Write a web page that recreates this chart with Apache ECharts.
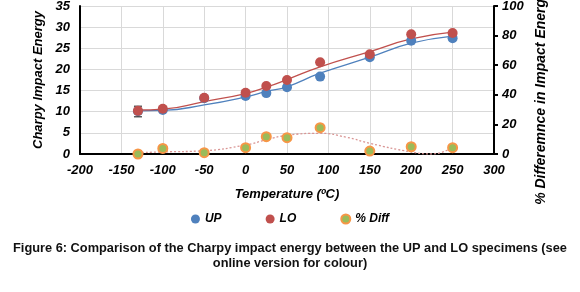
<!DOCTYPE html>
<html>
<head>
<meta charset="utf-8">
<script src="https://cdn.jsdelivr.net/npm/echarts@6/dist/echarts.min.js"></script>
<style>
  html, body { margin: 0; padding: 0; background: #fff; }
  #chart { width: 580px; height: 292px; }
</style>
</head>
<body>
<div id="chart"></div>
<script>
// measured points
var temps = [-130, -100, -50, 0, 25, 50, 90, 150, 200, 250];
var upVals = [10.1, 10.4, 13.2, 13.7, 14.4, 15.8, 18.3, 22.9, 26.8, 27.4];
var loVals = [10.2, 10.7, 13.3, 14.5, 16.1, 17.5, 21.7, 23.6, 28.3, 28.6];
var diffVals = [0, 3.8, 0.9, 4.3, 11.7, 11.0, 17.8, 2.0, 4.9, 4.3];

// error bar on the first LO point
var errTemp = [-130];
var errLow = [8.8];
var errHigh = [11.3];

// trend lines
var trendTemps = [-130, -100, -50, 0, 25, 50, 90, 150, 200, 250];
var upTrend = [10.2, 10.3, 11.6, 13.5, 14.8, 15.9, 19.1, 22.9, 26.2, 27.9];
var loTrend = [10.4, 10.6, 12.4, 14.3, 15.8, 17.6, 20.6, 24.2, 27.2, 28.8];
var diffTrendTemps = [-130, -100, -50, 0, 25, 50, 90, 122, 150, 200, 225, 250];
var diffTrend = [0.9, 1.4, 2.2, 6.1, 9.6, 12.6, 14.0, 11.3, 7.2, 1.4, 0, 4.5];

var xTicks = [-200, 300, 50];
var leftTicks = [0, 35, 5];
var rightTicks = [0, 100, 20];

var font = 'Liberation Sans';
var blue = '#4f81bd', red = '#c0504d', green = '#9bbb59', orange = '#f79646';

function pairs(xs, ys) {
  return xs.map(function (x, i) { return [x, ys[i]]; });
}

var labelStyle = { fontFamily: font, fontWeight: 'bold', fontStyle: 'italic', fontSize: 13, color: '#000' };

var myChart = echarts.init(document.getElementById('chart'));
var option = {
  animation: false,
  textStyle: { fontFamily: font },
  title: {
    text: 'Figure 6: Comparison of the Charpy impact energy between the UP and LO specimens (see\nonline version for colour)',
    left: 'center',
    top: 236,
    textStyle: { fontFamily: font, fontWeight: 'bold', fontSize: 12.8, color: '#111', lineHeight: 15, align: 'center' }
  },
  legend: {
    data: ['UP', 'LO', '% Diff'],
    top: 208,
    left: 'center',
    itemGap: 44,
    itemWidth: 9,
    itemHeight: 9,
    textStyle: { fontFamily: font, fontWeight: 'bold', fontStyle: 'italic', fontSize: 12, color: '#000' }
  },
  grid: { left: 80, right: 86, top: 6, bottom: 138, outerBoundsMode: 'none', containLabel: false },
  xAxis: {
    type: 'value',
    min: xTicks[0], max: xTicks[1], interval: xTicks[2],
    name: 'Temperature (ºC)',
    nameLocation: 'middle',
    nameGap: 34,
    nameTextStyle: labelStyle,
    axisLine: { onZero: false, lineStyle: { color: '#000', width: 2 } },
    axisTick: { show: false },
    axisLabel: Object.assign({ margin: 10 }, labelStyle),
    splitLine: { show: true, lineStyle: { color: '#d9d9d9' } }
  },
  yAxis: [
    {
      type: 'value',
      min: leftTicks[0], max: leftTicks[1], interval: leftTicks[2],
      name: 'Charpy Impact Energy',
      nameLocation: 'middle',
      nameGap: 27,
      nameRotate: 90,
      nameTextStyle: labelStyle,
      axisLine: { show: true, onZero: false, lineStyle: { color: '#000', width: 2 } },
      axisTick: { show: false },
      axisLabel: Object.assign({ margin: 10 }, labelStyle),
      splitLine: { show: true, lineStyle: { color: '#d9d9d9' } }
    },
    {
      type: 'value',
      min: rightTicks[0], max: rightTicks[1], interval: rightTicks[2],
      name: '% Differemnce in Impact Energy',
      nameLocation: 'middle',
      nameGap: 37,
      nameRotate: 90,
      nameTextStyle: Object.assign({}, labelStyle, { fontSize: 14, padding: [0, 36, 0, 0] }),
      axisLine: { show: true, onZero: false, lineStyle: { color: '#000', width: 2 } },
      axisTick: { show: true, length: 4, lineStyle: { color: '#000', width: 2 } },
      axisLabel: Object.assign({ margin: 8 }, labelStyle),
      splitLine: { show: false }
    }
  ],
  series: [
    {
      name: 'UP trend', type: 'line', smooth: true, showSymbol: false, silent: true,
      data: pairs(trendTemps, upTrend),
      lineStyle: { color: blue, width: 1.3 }, z: 2
    },
    {
      name: 'LO trend', type: 'line', smooth: true, showSymbol: false, silent: true,
      data: pairs(trendTemps, loTrend),
      lineStyle: { color: red, width: 1.3 }, z: 2
    },
    {
      name: 'Diff trend', type: 'line', smooth: true, showSymbol: false, silent: true,
      yAxisIndex: 1,
      data: pairs(diffTrendTemps, diffTrend),
      lineStyle: { color: '#d99594', width: 1.3, type: [2, 2] }, z: 2
    },
    {
      name: 'LO err', type: 'custom', silent: true,
      data: errTemp.map(function (t, i) { return [t, errLow[i], errHigh[i]]; }),
      renderItem: function (params, api) {
        var lo = api.coord([api.value(0), api.value(1)]);
        var hi = api.coord([api.value(0), api.value(2)]);
        var w = 4;
        var st = { stroke: '#333', lineWidth: 1.2 };
        return {
          type: 'group',
          children: [
            { type: 'line', shape: { x1: lo[0], y1: lo[1], x2: hi[0], y2: hi[1] }, style: st },
            { type: 'line', shape: { x1: lo[0] - w, y1: lo[1], x2: lo[0] + w, y2: lo[1] }, style: st },
            { type: 'line', shape: { x1: hi[0] - w, y1: hi[1], x2: hi[0] + w, y2: hi[1] }, style: st }
          ]
        };
      },
      z: 3
    },
    {
      name: 'UP', type: 'scatter', symbolSize: 10,
      data: pairs(temps, upVals),
      itemStyle: { color: blue, opacity: 1 }, z: 4
    },
    {
      name: 'LO', type: 'scatter', symbolSize: 10,
      data: pairs(temps, loVals),
      itemStyle: { color: red, opacity: 1 }, z: 5
    },
    {
      name: '% Diff', type: 'scatter', symbolSize: 9, yAxisIndex: 1,
      data: pairs(temps, diffVals),
      itemStyle: { color: green, borderColor: orange, borderWidth: 2, opacity: 1 }, z: 6
    }
  ]
};
myChart.setOption(option);
window.onresize = function () {
  myChart.resize();
};
</script>
</body>
</html>
